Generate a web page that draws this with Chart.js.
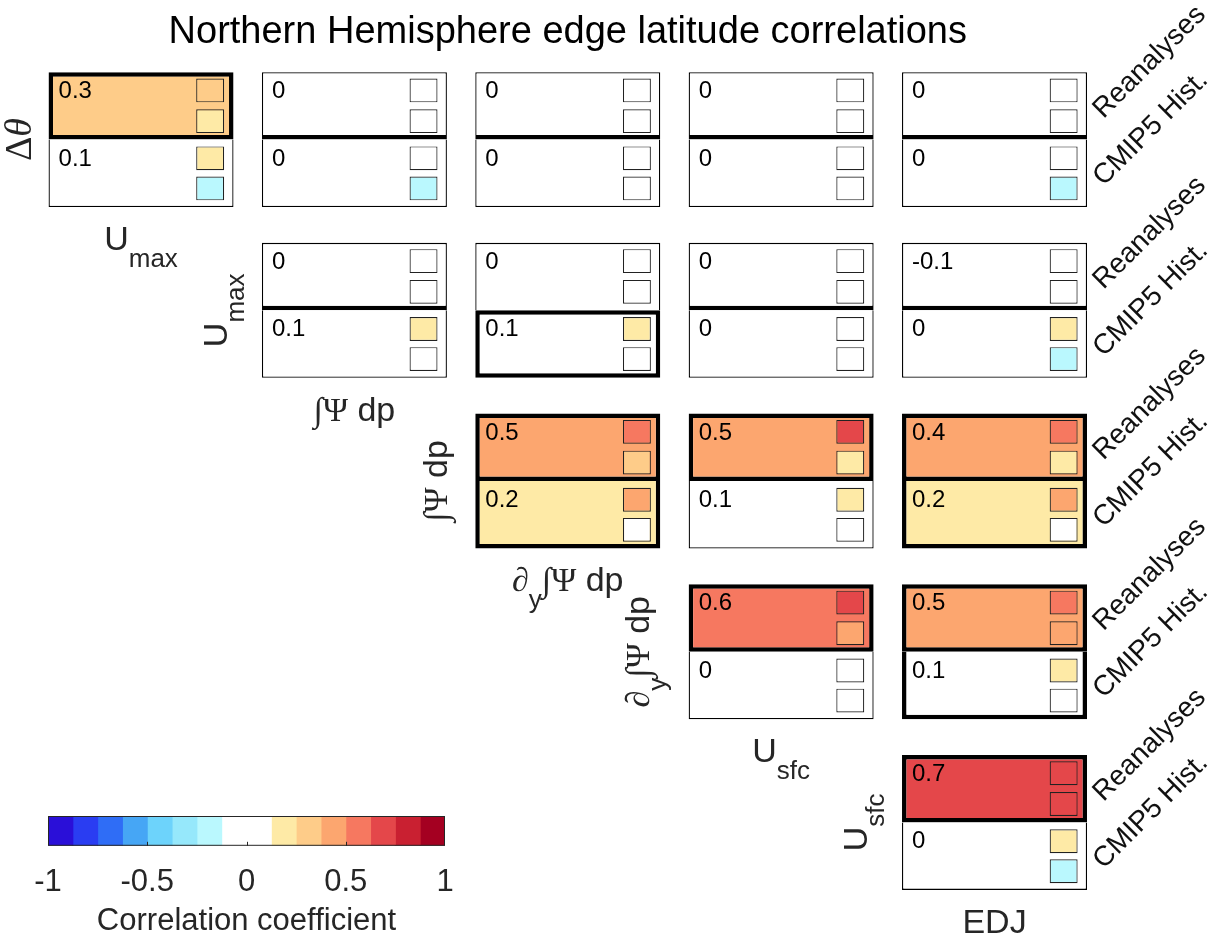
<!DOCTYPE html>
<html>
<head>
<meta charset="utf-8">
<script src="https://cdn.jsdelivr.net/npm/chart.js@4"></script>
<style>
  html, body { margin: 0; padding: 0; background: #fff; }
  #page { position: relative; width: 1225px; height: 940px; }
  #grid { position: absolute; left: 0; top: 0; }
  #cbar { position: absolute; left: 0; top: 800px; }
</style>
</head>
<body>
<div id="page">
  <canvas id="grid" width="1225" height="940"></canvas>
  <canvas id="cbar" width="480" height="144"></canvas>
</div>
<script>
const SANS = "'Liberation Sans', Arial, Helvetica, sans-serif";
const SERIF = "'Liberation Serif', 'DejaVu Serif', 'Times New Roman', serif";

const titleText = 'Northern Hemisphere edge latitude correlations';
// rows / columns of the triangular matrix ("_x" = subscript)
const rowLabels = ['Δθ', 'U_max', '∫Ψ dp', '∂_y∫Ψ dp', 'U_sfc'];
const colLabels = ['U_max', '∫Ψ dp', '∂_y∫Ψ dp', 'U_sfc', 'EDJ'];
const halfLabels = ['Reanalyses', 'CMIP5 Hist.'];

// correlation shown in each half of a panel (null = no panel)
const reaCorr = [
  [0.30, 0.00, 0.00, 0.00, 0.00],
  [null, 0.00, 0.00, 0.00, -0.10],
  [null, null, 0.47, 0.46, 0.42],
  [null, null, null, 0.60, 0.48],
  [null, null, null, null, 0.70]
];
const cmipCorr = [
  [0.10, 0.00, 0.00, 0.00, 0.00],
  [null, 0.10, 0.10, 0.00, 0.00],
  [null, null, 0.20, 0.10, 0.20],
  [null, null, null, 0.00, 0.10],
  [null, null, null, null, 0.00]
];
// significant -> heavy outline
const reaSig = [
  [1, 0, 0, 0, 0],
  [null, 0, 0, 0, 0],
  [null, null, 1, 1, 1],
  [null, null, null, 1, 1],
  [null, null, null, null, 1]
];
const cmipSig = [
  [0, 0, 0, 0, 0],
  [null, 0, 1, 0, 0],
  [null, null, 1, 0, 1],
  [null, null, null, 0, 1],
  [null, null, null, null, 0]
];
// the two small boxes at the right of each half
const reaBoxA = [
  [0.31, 0.02, 0.01, 0.02, 0.03],
  [null, 0.02, 0.05, 0.01, -0.06],
  [null, null, 0.56, 0.70, 0.56],
  [null, null, null, 0.70, 0.58],
  [null, null, null, null, 0.70]
];
const reaBoxB = [
  [0.18, -0.03, 0.03, 0.06, 0.01],
  [null, 0.04, 0.03, -0.04, -0.08],
  [null, null, 0.30, 0.20, 0.20],
  [null, null, null, 0.45, 0.42],
  [null, null, null, null, 0.66]
];
const cmipBoxA = [
  [0.17, 0.05, 0.04, -0.03, 0.08],
  [null, 0.16, 0.18, 0.04, 0.14],
  [null, null, 0.42, 0.18, 0.42],
  [null, null, null, 0.04, 0.18],
  [null, null, null, null, 0.15]
];
const cmipBoxB = [
  [-0.14, -0.15, -0.02, 0.05, -0.16],
  [null, 0.05, 0.06, 0.07, -0.15],
  [null, null, 0.05, 0.06, 0.03],
  [null, null, null, 0.02, 0.05],
  [null, null, null, null, -0.15]
];

const cmapEdges = [-1, -0.875, -0.75, -0.625, -0.5, -0.375, -0.25, -0.125, 0,
                   0.125, 0.25, 0.375, 0.5, 0.625, 0.75, 0.875, 1];
const cmapColors = ['#2a0fd8', '#2a3df2', '#2f6df6', '#46a6f5', '#6dd3fb', '#96e8fb', '#baf8fe', '#ffffff',
                    '#ffffff', '#feeaa6', '#fecc89', '#fca66f', '#f67860', '#e4474a', '#c92031', '#a40021'];
const cbarTicks = [-1, -0.5, 0, 0.5, 1];
const cbarTitle = 'Correlation coefficient';

// panel geometry, in axis units
const PANEL_W = 0.867, HALF_H = 0.395;
const BOX_DX = 0.324, BOX_W = 0.131, BOX_H = 0.14;
const BOX_DY = [-0.288, -0.108, 0.110, 0.286];

function colorFor(v) {
  for (let i = 0; i < cmapColors.length; i++) {
    if (v < cmapEdges[i + 1]) return cmapColors[i];
  }
  return cmapColors[cmapColors.length - 1];
}

function fmt(v) {
  return String(Math.round(v * 10) / 10 + 0);
}

// build bar records
const halves = [];
const boxes = [];
rowLabels.forEach((_, r) => {
  colLabels.forEach((__, c) => {
    if (reaCorr[r][c] == null) return;
    halves.push({ x: c, y: [r - HALF_H, r], v: reaCorr[r][c], sig: reaSig[r][c], otherSig: cmipSig[r][c], half: 0 });
    halves.push({ x: c, y: [r, r + HALF_H], v: cmipCorr[r][c], sig: cmipSig[r][c], otherSig: reaSig[r][c], half: 1 });
    [reaBoxA, reaBoxB, cmipBoxA, cmipBoxB].forEach((arr, k) => {
      const yc = r + BOX_DY[k];
      boxes.push({ x: c + BOX_DX, y: [yc - BOX_H / 2, yc + BOX_H / 2], v: arr[r][c] });
    });
  });
});

// heavy outline for significant halves; the middle divider is drawn by one half only
function edgeWidths(d) {
  if (!d) return 1;
  const outer = d.sig ? 4.5 : 1.3;
  if (d.half === 0) {
    const mid = (d.sig || !d.otherSig) ? 4.5 : 0;
    return { top: outer, left: outer, right: outer, bottom: mid };
  }
  const mid = (d.sig && !d.otherSig) ? 4.5 : 0;
  return { top: mid, left: outer, right: outer, bottom: outer };
}

// "U_max" -> runs of text with fonts
function toRuns(label, size) {
  const sub = Math.round(size * 0.76);
  const out = [];
  const re = /_([a-z]+)|([ΔθΨ∫∂])|([^_ΔθΨ∫∂]+)/g;
  let m;
  while ((m = re.exec(label))) {
    if (m[1]) out.push({ t: m[1], f: `${sub}px ${SANS}`, dy: size * 0.49 });
    else if (m[2]) out.push({ t: m[2], f: `${'θ∫∂'.includes(m[2]) ? 'italic ' : ''}${size}px ${SERIF}`, dy: 0 });
    else out.push({ t: m[3], f: `${size}px ${SANS}`, dy: 0 });
  }
  return out;
}

function runsMetrics(ctx, runs) {
  let w = 0, low = 0;
  runs.forEach(r => {
    ctx.font = r.f;
    const m = ctx.measureText(r.t);
    w += m.width;
    low = Math.max(low, r.dy + m.actualBoundingBoxDescent);
  });
  return { w, low };
}

function drawRuns(ctx, runs, cx, base) {
  let x = cx - runsMetrics(ctx, runs).w / 2;
  runs.forEach(r => {
    ctx.font = r.f;
    ctx.fillText(r.t, x, base + r.dy);
    x += ctx.measureText(r.t).width;
  });
}

const colTicks = scale => { scale.ticks = colLabels.map((_, i) => ({ value: i })); };

const annotate = {
  id: 'annotate',
  afterDatasetsDraw(chart) {
    const { ctx } = chart;
    const x = chart.scales.x, y = chart.scales.y;
    ctx.save();
    ctx.textAlign = 'left';
    ctx.textBaseline = 'alphabetic';

    // value in the corner of each half
    ctx.fillStyle = '#000';
    ctx.font = `24px ${SANS}`;
    chart.getDatasetMeta(0).data.forEach((el, i) => {
      const d = chart.data.datasets[0].data[i];
      const p = el.getProps(['x', 'y', 'base', 'width'], true);
      const top = Math.min(p.y, p.base);
      ctx.fillText(fmt(d.v), p.x - p.width / 2 + 10, top + 26);
    });

    ctx.fillStyle = '#262626';
    // column labels under the diagonal panels
    colLabels.forEach((lab, c) => {
      const base = y.getPixelForValue(c + HALF_H) + 43;
      drawRuns(ctx, toRuns(lab, 34), x.getPixelForValue(c), base);
    });
    // row labels, rotated, left of the diagonal panels
    rowLabels.forEach((lab, r) => {
      const runs = toRuns(lab, r === 0 ? 38 : 34);
      const { low } = runsMetrics(ctx, runs);
      const left = x.getPixelForValue(r - PANEL_W / 2);
      ctx.save();
      ctx.translate(left - 18 - low, y.getPixelForValue(r));
      ctx.rotate(-Math.PI / 2);
      drawRuns(ctx, runs, 0, 0);
      ctx.restore();
    });

    // Reanalyses / CMIP5 Hist. at the right end of each row
    ctx.fillStyle = '#111';
    ctx.font = `28px ${SANS}`;
    ctx.textBaseline = 'middle';
    const right = x.getPixelForValue(colLabels.length - 1 + PANEL_W / 2) + 11;
    rowLabels.forEach((_, r) => {
      halfLabels.forEach((name, h) => {
        ctx.save();
        ctx.translate(right, y.getPixelForValue(r + (h ? 1 : -1) * HALF_H / 2) + 8);
        ctx.rotate(-Math.PI / 4);
        ctx.fillText(name, 0, 0);
        ctx.restore();
      });
    });
    ctx.restore();
  }
};

new Chart(document.getElementById('grid'), {
  type: 'bar',
  data: {
    datasets: [{
      label: 'correlation',
      data: halves,
      xAxisID: 'x',
      yAxisID: 'y',
      order: 2,
      grouped: false,
      barPercentage: PANEL_W,
      categoryPercentage: 1,
      backgroundColor: c => c.raw ? colorFor(c.raw.v) : '#fff',
      borderColor: '#000',
      borderWidth: c => edgeWidths(c.raw),
      borderSkipped: false,
      inflateAmount: 0
    }, {
      label: 'boxes',
      data: boxes,
      xAxisID: 'xs',
      yAxisID: 'y',
      order: 1,
      grouped: false,
      barPercentage: BOX_W,
      categoryPercentage: 1,
      backgroundColor: c => c.raw ? colorFor(c.raw.v) : '#fff',
      borderColor: '#222',
      borderWidth: 1.2,
      borderSkipped: false,
      inflateAmount: 0
    }]
  },
  options: {
    responsive: false,
    animation: false,
    events: [],
    layout: { padding: { left: 34.35, right: 123.8, top: 0, bottom: 32.15 } },
    plugins: {
      legend: { display: false },
      tooltip: { enabled: false },
      title: {
        display: true,
        text: titleText,
        color: '#000',
        font: { family: SANS, size: 38, weight: 'normal', lineHeight: 1 },
        padding: { top: 14, bottom: 2.2 }
      }
    },
    scales: {
      x: { type: 'linear', display: false, offset: false, min: -0.5, max: 4.5, afterBuildTicks: colTicks },
      xs: { type: 'linear', display: false, offset: false, min: -0.5, max: 4.5, afterBuildTicks: colTicks },
      y: { type: 'linear', display: false, offset: false, reverse: true, min: -0.5, max: 4.5 }
    }
  },
  plugins: [annotate]
});

// colour bar
const cbarFrame = {
  id: 'cbarFrame',
  afterDatasetsDraw(chart) {
    const { ctx, chartArea: a } = chart;
    const x = chart.scales.x;
    ctx.save();
    ctx.strokeStyle = '#262626';
    ctx.lineWidth = 1;
    ctx.beginPath();
    cbarTicks.slice(1, -1).forEach(v => {
      const px = Math.round(x.getPixelForValue(v)) + 0.5;
      ctx.moveTo(px, a.bottom);
      ctx.lineTo(px, a.bottom - 4);
    });
    ctx.stroke();
    ctx.strokeRect(a.left + 0.5, a.top + 0.5, a.width - 1, a.height - 1);
    ctx.restore();
  }
};

new Chart(document.getElementById('cbar'), {
  type: 'bar',
  data: {
    labels: [''],
    datasets: cmapColors.map((col, i) => ({
      data: [[cmapEdges[i], cmapEdges[i + 1]]],
      backgroundColor: col,
      borderWidth: 0,
      grouped: false,
      barPercentage: 1,
      categoryPercentage: 1,
      inflateAmount: 0.5
    }))
  },
  options: {
    indexAxis: 'y',
    responsive: false,
    animation: false,
    events: [],
    layout: { padding: { left: 48, right: 35, top: 16, bottom: 0 } },
    plugins: {
      legend: { display: false },
      tooltip: { enabled: false },
      title: {
        display: true, position: 'bottom', text: cbarTitle, color: '#262626',
        font: { family: SANS, size: 31, weight: 'normal' }, padding: { top: -7, bottom: 4 }
      }
    },
    scales: {
      x: {
        type: 'linear', min: -1, max: 1, offset: false,
        afterBuildTicks: s => { s.ticks = cbarTicks.map(v => ({ value: v })); },
        grid: { display: false, drawTicks: false },
        border: { display: false },
        ticks: { autoSkip: false, maxRotation: 0, padding: 18, color: '#262626',
                 font: { family: SANS, size: 31 }, callback: v => String(v) }
      },
      y: { display: false }
    }
  },
  plugins: [cbarFrame]
});
</script>
</body>
</html>
